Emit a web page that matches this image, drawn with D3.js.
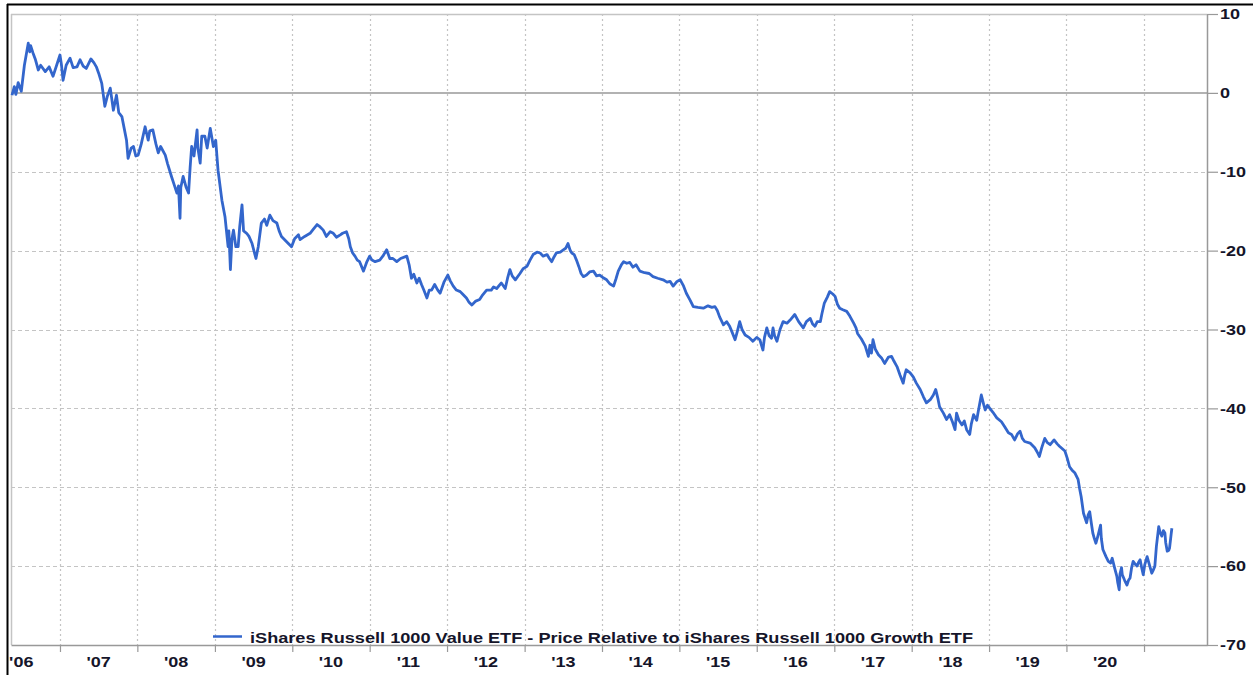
<!DOCTYPE html>
<html>
<head>
<meta charset="utf-8">
<script src="https://cdn.jsdelivr.net/npm/d3@7"></script>
<style>
  html, body { margin: 0; padding: 0; background: #fff; }
  svg { display: block; }
</style>
</head>
<body>
<div id="chart"></div>
<script>
"use strict";

/* ── Data: decimal-year dates and relative price (%) ── */
const dates = [
  2006.38, 2006.41, 2006.43, 2006.46, 2006.50, 2006.54, 2006.59, 2006.61, 2006.62, 2006.65,
  2006.68, 2006.72, 2006.75, 2006.81, 2006.86, 2006.91, 2006.96, 2007.00, 2007.02, 2007.04,
  2007.08, 2007.13, 2007.17, 2007.22, 2007.26, 2007.30, 2007.34, 2007.40, 2007.44, 2007.47,
  2007.50, 2007.54, 2007.58, 2007.61, 2007.65, 2007.69, 2007.73, 2007.76, 2007.80, 2007.83,
  2007.86, 2007.88, 2007.92, 2007.95, 2007.98, 2008.01, 2008.05, 2008.10, 2008.14, 2008.16,
  2008.20, 2008.24, 2008.27, 2008.30, 2008.36, 2008.39, 2008.44, 2008.47, 2008.51, 2008.53,
  2008.55, 2008.56, 2008.59, 2008.63, 2008.66, 2008.68, 2008.70, 2008.73, 2008.77, 2008.78,
  2008.81, 2008.83, 2008.87, 2008.90, 2008.94, 2008.98, 2009.01, 2009.04, 2009.09, 2009.13,
  2009.17, 2009.18, 2009.20, 2009.22, 2009.24, 2009.27, 2009.30, 2009.32, 2009.35, 2009.37,
  2009.41, 2009.44, 2009.48, 2009.53, 2009.56, 2009.60, 2009.64, 2009.67, 2009.71, 2009.75,
  2009.80, 2009.83, 2009.86, 2009.92, 2009.99, 2010.03, 2010.08, 2010.10, 2010.16, 2010.23,
  2010.27, 2010.32, 2010.36, 2010.40, 2010.44, 2010.49, 2010.53, 2010.57, 2010.62, 2010.65,
  2010.70, 2010.73, 2010.75, 2010.78, 2010.81, 2010.84, 2010.87, 2010.92, 2010.96, 2011.00,
  2011.03, 2011.07, 2011.13, 2011.17, 2011.22, 2011.26, 2011.30, 2011.35, 2011.40, 2011.48,
  2011.51, 2011.54, 2011.57, 2011.61, 2011.64, 2011.67, 2011.70, 2011.74, 2011.77, 2011.80,
  2011.84, 2011.88, 2011.91, 2011.96, 2012.01, 2012.04, 2012.08, 2012.12, 2012.17, 2012.20,
  2012.25, 2012.28, 2012.32, 2012.37, 2012.42, 2012.46, 2012.51, 2012.57, 2012.60, 2012.64,
  2012.70, 2012.75, 2012.78, 2012.81, 2012.84, 2012.88, 2012.94, 2012.98, 2013.03, 2013.07,
  2013.11, 2013.16, 2013.20, 2013.24, 2013.29, 2013.32, 2013.35, 2013.38, 2013.41, 2013.46,
  2013.50, 2013.53, 2013.56, 2013.59, 2013.61, 2013.64, 2013.67, 2013.70, 2013.73, 2013.76,
  2013.80, 2013.84, 2013.89, 2013.93, 2013.97, 2014.01, 2014.06, 2014.10, 2014.15, 2014.18,
  2014.21, 2014.25, 2014.28, 2014.32, 2014.36, 2014.40, 2014.44, 2014.49, 2014.55, 2014.61,
  2014.66, 2014.72, 2014.79, 2014.84, 2014.88, 2014.92, 2014.97, 2015.01, 2015.05, 2015.09,
  2015.14, 2015.18, 2015.24, 2015.31, 2015.37, 2015.42, 2015.46, 2015.49, 2015.52, 2015.57,
  2015.61, 2015.65, 2015.68, 2015.72, 2015.75, 2015.78, 2015.81, 2015.85, 2015.90, 2015.95,
  2016.00, 2016.04, 2016.08, 2016.10, 2016.13, 2016.16, 2016.19, 2016.21, 2016.23, 2016.26,
  2016.30, 2016.34, 2016.39, 2016.43, 2016.49, 2016.54, 2016.60, 2016.64, 2016.69, 2016.72,
  2016.75, 2016.78, 2016.82, 2016.84, 2016.87, 2016.91, 2016.94, 2016.98, 2017.01, 2017.04,
  2017.07, 2017.11, 2017.16, 2017.20, 2017.25, 2017.28, 2017.30, 2017.35, 2017.40, 2017.44,
  2017.46, 2017.48, 2017.50, 2017.53, 2017.57, 2017.61, 2017.65, 2017.70, 2017.74, 2017.77,
  2017.81, 2017.85, 2017.89, 2017.91, 2017.93, 2017.98, 2018.02, 2018.06, 2018.11, 2018.15,
  2018.19, 2018.24, 2018.28, 2018.31, 2018.34, 2018.36, 2018.41, 2018.45, 2018.49, 2018.53,
  2018.56, 2018.58, 2018.61, 2018.65, 2018.68, 2018.71, 2018.75, 2018.77, 2018.80, 2018.84,
  2018.86, 2018.90, 2018.93, 2018.95, 2018.98, 2019.01, 2019.05, 2019.10, 2019.16, 2019.20,
  2019.25, 2019.29, 2019.33, 2019.37, 2019.40, 2019.43, 2019.46, 2019.53, 2019.59, 2019.62,
  2019.65, 2019.68, 2019.72, 2019.75, 2019.79, 2019.84, 2019.88, 2019.91, 2019.98, 2020.01,
  2020.04, 2020.07, 2020.11, 2020.15, 2020.17, 2020.19, 2020.22, 2020.26, 2020.28, 2020.30,
  2020.32, 2020.34, 2020.36, 2020.38, 2020.41, 2020.44, 2020.45, 2020.47, 2020.51, 2020.54,
  2020.57, 2020.59, 2020.62, 2020.65, 2020.66, 2020.68, 2020.69, 2020.71, 2020.72, 2020.75,
  2020.78, 2020.80, 2020.82, 2020.84, 2020.86, 2020.89, 2020.91, 2020.93, 2020.95, 2020.97,
  2020.99, 2021.01, 2021.04, 2021.06, 2021.08, 2021.10, 2021.12, 2021.14, 2021.16, 2021.19,
  2021.21, 2021.23, 2021.25, 2021.27, 2021.28, 2021.30, 2021.32, 2021.33, 2021.35, 2021.36
];

const values = [
  -0.3, 0.8, -0.2, 1.3, 0.2, 3.5, 6.3, 5.2, 6.0, 5.1,
  4.3, 2.9, 3.5, 2.7, 3.3, 2.1, 3.6, 4.8, 3.5, 1.6,
  3.5, 4.4, 3.2, 3.3, 4.2, 3.4, 3.1, 4.3, 3.8, 3.3,
  2.5, 1.2, -1.7, -0.5, 0.6, -2.2, -0.3, -2.5, -3.0, -4.5,
  -6.0, -8.3, -7.0, -6.8, -8.0, -7.9, -6.5, -4.3, -6.0, -4.8,
  -4.7, -6.5, -7.6, -6.8, -7.9, -9.0, -10.6, -11.5, -12.7, -11.8,
  -15.9, -12.0, -10.6, -12.0, -12.7, -9.5, -6.8, -8.0, -4.7, -7.0,
  -8.9, -5.5, -5.5, -7.0, -4.5, -6.8, -6.0, -9.8, -13.6, -15.7,
  -19.5, -17.5, -22.4, -18.5, -17.4, -19.5, -19.5, -17.0, -14.2, -17.5,
  -17.8, -18.2, -19.1, -21.0, -19.5, -16.5, -16.0, -16.8, -15.5, -16.2,
  -16.5, -17.5, -18.2, -18.8, -19.5, -18.5, -18.0, -18.6, -18.2, -17.8,
  -17.3, -16.7, -17.0, -17.4, -18.2, -17.6, -17.8, -18.3, -18.0, -17.8,
  -17.6, -18.5, -19.5, -20.3, -20.7, -21.2, -21.4, -22.6, -21.5, -20.7,
  -21.2, -21.4, -21.2, -20.7, -19.9, -21.0, -21.0, -21.4, -21.0, -20.7,
  -21.8, -23.5, -23.0, -24.1, -23.5, -24.3, -25.0, -26.0, -25.0, -25.0,
  -24.3, -25.0, -25.4, -24.0, -23.1, -23.8, -24.5, -25.0, -25.2, -25.5,
  -26.0, -26.5, -26.9, -26.4, -26.2, -25.6, -25.0, -25.0, -24.6, -24.8,
  -24.1, -24.8, -23.5, -22.4, -23.2, -23.7, -22.9, -22.3, -22.0, -21.2,
  -20.5, -20.2, -20.3, -20.7, -20.5, -21.0, -21.4, -20.8, -20.3, -20.2,
  -19.9, -19.7, -19.1, -20.0, -20.3, -20.5, -21.2, -22.0, -22.9, -23.3,
  -23.1, -22.7, -22.6, -23.2, -23.1, -23.4, -23.7, -24.2, -24.5, -23.6,
  -22.6, -21.8, -21.4, -21.6, -21.5, -22.1, -21.8, -22.6, -22.8, -22.9,
  -23.3, -23.5, -23.7, -24.0, -23.9, -24.5, -23.9, -23.7, -24.4, -25.4,
  -26.3, -27.1, -27.2, -27.3, -27.0, -27.2, -27.1, -27.6, -28.4, -29.4,
  -29.0, -29.6, -30.3, -31.3, -30.2, -29.0, -30.0, -30.7, -31.0, -31.5,
  -31.0, -31.3, -32.6, -31.0, -29.8, -30.8, -31.1, -29.8, -30.8, -31.5,
  -30.0, -29.0, -29.2, -28.8, -28.1, -29.0, -29.8, -29.0, -28.6, -29.3,
  -29.6, -29.0, -29.0, -28.0, -26.7, -25.9, -25.2, -25.5, -25.8, -26.8,
  -27.3, -27.5, -27.7, -28.3, -29.2, -29.8, -30.5, -31.2, -32.1, -33.4,
  -32.0, -33.0, -31.3, -32.5, -33.2, -33.6, -34.3, -33.5, -33.4, -34.0,
  -34.7, -35.8, -36.8, -35.8, -35.1, -35.5, -36.0, -36.8, -37.6, -38.5,
  -39.3, -38.9, -38.3, -37.6, -38.8, -39.8, -40.6, -41.4, -40.8, -41.8,
  -42.7, -40.6, -41.5, -42.1, -41.6, -42.7, -43.3, -42.0, -40.8, -41.5,
  -40.4, -38.3, -39.5, -40.2, -39.6, -40.0, -40.5, -41.2, -41.7, -42.3,
  -43.1, -43.3, -44.0, -43.2, -42.9, -43.8, -44.2, -44.4, -45.0, -45.5,
  -46.1, -45.0, -43.8, -44.3, -44.6, -44.0, -44.5, -44.8, -45.4, -46.3,
  -47.4, -47.8, -48.2, -49.0, -50.2, -51.2, -53.3, -54.5, -53.5, -53.1,
  -54.5, -55.8, -56.5, -57.1, -56.0, -54.8, -56.5, -57.9, -58.8, -59.4,
  -59.6, -59.0, -60.2, -61.3, -62.0, -63.0, -61.0, -60.2, -61.1, -61.8,
  -62.4, -61.8, -61.5, -60.2, -59.4, -59.8, -60.0, -59.5, -59.2, -60.2,
  -61.1, -59.8, -58.8, -59.5, -60.2, -60.9, -60.5, -60.0, -57.5, -55.0,
  -55.8, -56.2, -55.5, -55.8, -57.0, -58.1, -58.0, -57.7, -56.0, -55.2
];

const yTicks      = [10, 0, -10, -20, -30, -40, -50, -60, -70];
const labelYears  = [2006, 2007, 2008, 2009, 2010, 2011, 2012, 2013, 2014, 2015, 2016, 2017, 2018, 2019, 2020];
const yearLabels  = ["'06", "'07", "'08", "'09", "'10", "'11", "'12", "'13", "'14", "'15", "'16", "'17", "'18", "'19", "'20"];
const seriesName  = "iShares Russell 1000 Value ETF - Price Relative to iShares Russell 1000 Growth ETF";
const domainYears = [2006.367, 2021.814];

/* decimal year -> Date */
function decYear(t) {
  const yr = Math.floor(t);
  const a = new Date(yr, 0, 1), b = new Date(yr + 1, 0, 1);
  return new Date(+a + (t - yr) * (b - a));
}

const W = 1253, H = 675;
const plot = { left: 11, right: 1207, top: 14, bottom: 645 };
const LINE_BLUE = "#3366cc";
const GRID = "#c4c4c4";
const AXIS = "#999999";
const TEXT = "#15152a";
const FONT = "'Liberation Sans', Arial, sans-serif";

const series = dates.map((t, i) => ({ date: decYear(t), v: values[i] }));

const svg = d3.select("#chart").append("svg")
  .attr("width", W).attr("height", H);

const x = d3.scaleTime()
  .domain(domainYears.map(decYear))
  .range([plot.left, plot.right]);

const y = d3.scaleLinear()
  .domain([-70, 10])
  .range([plot.bottom, plot.top]);

/* ── Outer frame (top + left visible) ── */
svg.append("line")
  .attr("x1", 7).attr("x2", W).attr("y1", 4.5).attr("y2", 4.5)
  .attr("stroke", "#000").attr("stroke-width", 2);
svg.append("line")
  .attr("x1", 7.5).attr("x2", 7.5).attr("y1", 4).attr("y2", H)
  .attr("stroke", "#000").attr("stroke-width", 2);

/* ── Plot border (top, left) ── */
svg.append("line")
  .attr("x1", plot.left).attr("x2", plot.right)
  .attr("y1", plot.top + 0.5).attr("y2", plot.top + 0.5)
  .attr("stroke", GRID).attr("stroke-width", 1.5);
svg.append("line")
  .attr("x1", plot.left + 0.5).attr("x2", plot.left + 0.5)
  .attr("y1", plot.top).attr("y2", plot.bottom)
  .attr("stroke", GRID).attr("stroke-width", 1.5);

/* ── Gridlines ── */
const yearBounds = d3.timeYear.range(decYear(2007), decYear(2021.5));

svg.append("g").selectAll("line")
  .data(yTicks.filter(v => v !== 10 && v !== 0 && v !== -70))
  .join("line")
  .attr("x1", plot.left).attr("x2", plot.right)
  .attr("y1", d => Math.round(y(d)) + 0.5).attr("y2", d => Math.round(y(d)) + 0.5)
  .attr("stroke", GRID).attr("stroke-width", 1)
  .attr("stroke-dasharray", "4,3");

svg.append("g").selectAll("line")
  .data(yearBounds)
  .join("line")
  .attr("x1", d => Math.round(x(d)) + 0.5).attr("x2", d => Math.round(x(d)) + 0.5)
  .attr("y1", plot.top).attr("y2", plot.bottom)
  .attr("stroke", GRID).attr("stroke-width", 1.2)
  .attr("stroke-dasharray", "2,3");

/* zero line */
svg.append("line")
  .attr("x1", plot.left).attr("x2", plot.right)
  .attr("y1", y(0)).attr("y2", y(0))
  .attr("stroke", AXIS).attr("stroke-width", 1.5);

/* ── Series ── */
svg.append("path")
  .datum(series)
  .attr("fill", "none")
  .attr("stroke", LINE_BLUE)
  .attr("stroke-width", 2.8)
  .attr("stroke-linejoin", "round")
  .attr("d", d3.line().x(d => x(d.date)).y(d => y(d.v)));

/* ── Right axis ── */
svg.append("g")
  .attr("transform", `translate(${plot.right},0)`)
  .call(d3.axisRight(y).tickValues(yTicks).tickSize(11).tickSizeOuter(0).tickPadding(2)
    .tickFormat(d => String(d)))
  .call(g => {
    g.select(".domain").attr("stroke", AXIS).attr("stroke-width", 1.5);
    g.selectAll(".tick line").attr("stroke", AXIS).attr("stroke-width", 1.2);
    g.selectAll(".tick text")
      .attr("fill", TEXT)
      .attr("font-family", FONT)
      .attr("font-size", "15px")
      .attr("font-weight", "bold");
  });

/* ── Bottom axis ── */
svg.append("g")
  .attr("transform", `translate(0,${plot.bottom})`)
  .call(d3.axisBottom(x).tickValues(yearBounds).tickSize(7).tickSizeOuter(0).tickFormat(""))
  .call(g => {
    g.select(".domain").attr("stroke", AXIS).attr("stroke-width", 1.5);
    g.selectAll(".tick line").attr("stroke", AXIS).attr("stroke-width", 1.2);
  });

svg.append("g").selectAll("text")
  .data(labelYears)
  .join("text")
  .attr("class", "year-label")
  .attr("x", d => x(decYear(d + 0.5)))
  .attr("y", 667)
  .attr("text-anchor", "middle")
  .attr("fill", TEXT)
  .attr("font-family", FONT)
  .attr("font-size", "15px")
  .attr("font-weight", "bold")
  .text((d, i) => yearLabels[i]);

/* ── Legend ── */
svg.append("line")
  .attr("x1", 213).attr("x2", 242)
  .attr("y1", 636.5).attr("y2", 636.5)
  .attr("stroke", LINE_BLUE).attr("stroke-width", 2.5);

svg.append("text")
  .attr("x", 250).attr("y", 643)
  .attr("fill", TEXT)
  .attr("font-family", FONT)
  .attr("font-size", "15px")
  .attr("font-weight", "bold")
  .attr("textLength", 723)
  .attr("lengthAdjust", "spacingAndGlyphs")
  .text(seriesName);

/* widen tick labels to match the reference's stretched type */
svg.selectAll(".tick text, .year-label").each(function () {
  const len = this.getComputedTextLength();
  if (len > 0) {
    d3.select(this)
      .attr("textLength", len * 1.2)
      .attr("lengthAdjust", "spacingAndGlyphs");
  }
});
</script>
</body>
</html>
